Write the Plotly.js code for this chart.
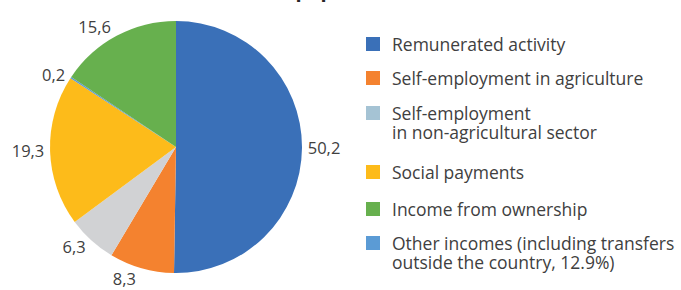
<!DOCTYPE html>
<html>
<head>
<meta charset="utf-8">
<script src="https://cdn.plot.ly/plotly-3.0.1.min.js"></script>
<style>html,body{margin:0;padding:0;background:#fff;}#chart{width:681px;height:290px;}</style>
</head>
<body>
<div id="chart"></div>
<script>
// Slice data in pie (clockwise) order
const sliceLabels = ["Remunerated activity", "Self-employment in agriculture", "Self-employment in non-agricultural sector", "Social payments", "Other incomes (including transfers outside the country, 12.9%)", "Income from ownership"];
const sliceValues = [50.2, 8.3, 6.3, 19.3, 0.2, 15.6];
const sliceColors = ["#3A70B8", "#F4822F", "#D1D2D4", "#FDBB1A", "#5B9BD5", "#67B04E"];

// Legend entries in legend order (each inner list = lines of one entry)
const legendLabels = [["Remunerated activity"], ["Self-employment in agriculture"], ["Self-employment", "in non-agricultural sector"], ["Social payments"], ["Income from ownership"], ["Other incomes (including transfers", "outside the country, 12.9%)"]];
const legendColors = ["#3A70B8", "#F4822F", "#A5C3D4", "#FDBB1A", "#67B04E", "#5B9BD5"];

const W = 681, H = 290;
const fontFam = "Open Sans, Noto Sans, sans-serif";
const textColor = "#404040";

const trace = {
  type: "pie",
  labels: sliceLabels,
  values: sliceValues,
  sort: false,
  direction: "clockwise",
  rotation: 0,
  marker: {colors: sliceColors, line: {width: 0}},
  textposition: "outside",
  texttemplate: "%{value:.1f}",
  textfont: {family: fontFam, size: 16.5, color: textColor},
  showlegend: false,
  hoverinfo: "none",
  domain: {x: [50 / W, 302 / W], y: [(H - 273) / H, (H - 21) / H]}
};

// Legend drawn as shapes + annotations (legend order differs from slice order)
const legendY = [44, 78, 113, 172, 209, 243];
const lineGap = 19;
const shapes = [];
const annotations = [];
legendLabels.forEach((lines, i) => {
  const yc = legendY[i];
  shapes.push({type: "rect", xref: "paper", yref: "paper",
    x0: 366 / W, x1: 380 / W, y0: (H - yc - 7) / H, y1: (H - yc + 7) / H,
    fillcolor: legendColors[i], line: {width: 0}});
  lines.forEach((ln, j) => {
    annotations.push({xref: "paper", yref: "paper", x: 391 / W, y: (H - yc - j * lineGap) / H,
      xanchor: "left", yanchor: "middle", align: "left", showarrow: false,
      borderpad: 0,
      text: ln, font: {family: fontFam, size: 17.5, color: textColor}});
  });
});
// Title, mostly cut off at the top as in the reference
annotations.push({xref: "paper", yref: "paper", x: 168 / W, y: 1 + 10.5 / H,
  xanchor: "left", yanchor: "middle", showarrow: false,
  text: "<b>Structure of population income, %</b>",
  font: {family: fontFam, size: 20, color: "#262626"}});

const layout = {
  width: W, height: H,
  margin: {l: 0, r: 0, t: 0, b: 0},
  paper_bgcolor: "#fff",
  separators: ", ",
  shapes: shapes,
  annotations: annotations
};

Plotly.newPlot("chart", [trace], layout, {staticPlot: true, displayModeBar: false});
</script>
</body>
</html>
